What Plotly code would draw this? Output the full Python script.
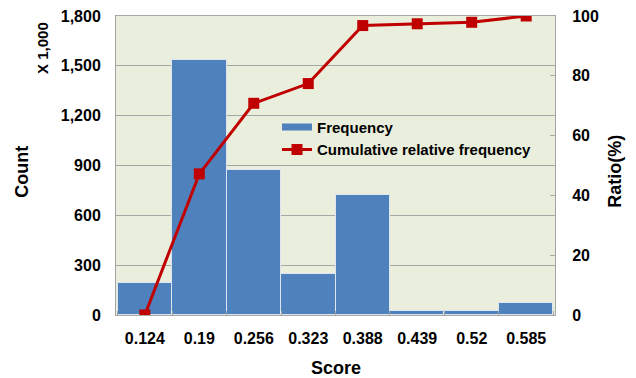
import plotly.graph_objects as go

scores = ["0.124", "0.19", "0.256", "0.323", "0.388", "0.439", "0.52", "0.585"]
frequency = [195, 1535, 870, 245, 720, 25, 25, 70]
cumulative = [0, 47.2, 70.8, 77.4, 96.8, 97.4, 97.9, 100]
left_ticks = [0, 300, 600, 900, 1200, 1500, 1800]
right_ticks = [0, 20, 40, 60, 80, 100]

W, H = 636, 378
L, R, T, B = 116, 81, 16, 62.5
pw = W - L - R
ph = H - T - B

def px(x):
    return (x - L) / pw

def py(y):
    return (H - B - y) / ph

FAM = "Liberation Sans, Arial, sans-serif"
BAR_COLOR = "#4F81BD"
LINE_COLOR = "#C00000"

def f(size):
    return dict(family=FAM, size=size, color="black")

fig = go.Figure()
fig.add_trace(go.Bar(
    x=scores, y=frequency, name="<b>Frequency</b>",
    marker=dict(color=BAR_COLOR, line=dict(color="#DDE5EE", width=1)),
    yaxis="y", showlegend=False,
))
# legend entry for the bars drawn as a wide rectangle swatch
fig.add_trace(go.Scatter(
    x=[None], y=[None], name="<b>Frequency</b>", mode="lines",
    line=dict(color=BAR_COLOR, width=7), yaxis="y",
))
fig.add_trace(go.Scatter(
    x=scores, y=cumulative, name="<b>Cumulative relative frequency</b>",
    mode="lines+markers",
    line=dict(color=LINE_COLOR, width=3),
    marker=dict(symbol="square", size=11, color=LINE_COLOR),
    yaxis="y2",
))

fig.update_layout(
    width=W, height=H,
    margin=dict(l=L, r=R, t=T, b=B, autoexpand=False),
    paper_bgcolor="white",
    plot_bgcolor="#EAEEDC",
    bargap=0,
    showlegend=True,
    font=f(15),
    legend=dict(
        x=px(277), y=py(111), xanchor="left", yanchor="top",
        bgcolor="rgba(0,0,0,0)", font=f(15),
        tracegroupgap=0, itemwidth=30,
    ),
    xaxis=dict(
        type="category", automargin=False,
        showgrid=False,
        showline=True, linecolor="#A6A6A6", linewidth=1, mirror=True,
        ticks="inside", tickson="boundaries", ticklen=4, tickcolor="#A6A6A6",
        tickfont=f(16),
        tickvals=scores,
        ticktext=[f"<b>{s}</b>" for s in scores],
        ticklabelstandoff=9,
    ),
    yaxis=dict(
        range=[0, 1800], automargin=False,
        tickvals=left_ticks,
        ticktext=[f"<b>{v:,}</b>" for v in left_ticks],
        showgrid=True, gridcolor="#A6A6A6", gridwidth=1,
        showline=True, linecolor="#A6A6A6", linewidth=1,
        ticks="", zeroline=False,
        tickfont=f(16),
        ticklabelstandoff=11,
    ),
    yaxis2=dict(
        range=[0, 100], automargin=False,
        tickvals=right_ticks,
        ticktext=[f"<b>{v}</b>" for v in right_ticks],
        overlaying="y", side="right",
        showgrid=False, zeroline=False,
        showline=True, linecolor="#A6A6A6", linewidth=1,
        ticks="inside", ticklen=5, tickcolor="#A6A6A6",
        tickfont=f(16),
        ticklabelstandoff=13,
    ),
    annotations=[
        dict(text="<b>X 1,000</b>", x=px(43), y=py(48), xref="paper", yref="paper",
             xanchor="center", yanchor="middle",
             textangle=-90, showarrow=False, font=f(15)),
        dict(text="<b>Count</b>", x=px(22), y=py(172), xref="paper", yref="paper",
             xanchor="center", yanchor="middle",
             textangle=-90, showarrow=False, font=f(18)),
        dict(text="<b>Ratio(%)</b>", x=px(615), y=py(172), xref="paper", yref="paper",
             xanchor="center", yanchor="middle",
             textangle=-90, showarrow=False, font=f(18)),
        dict(text="<b>Score</b>", x=px(336), y=py(369), xref="paper", yref="paper",
             xanchor="center", yanchor="middle",
             showarrow=False, font=f(18)),
    ],
)

fig.write_html("out.html", config={"displayModeBar": False},
               post_script="document.body.style.margin='0px';")
